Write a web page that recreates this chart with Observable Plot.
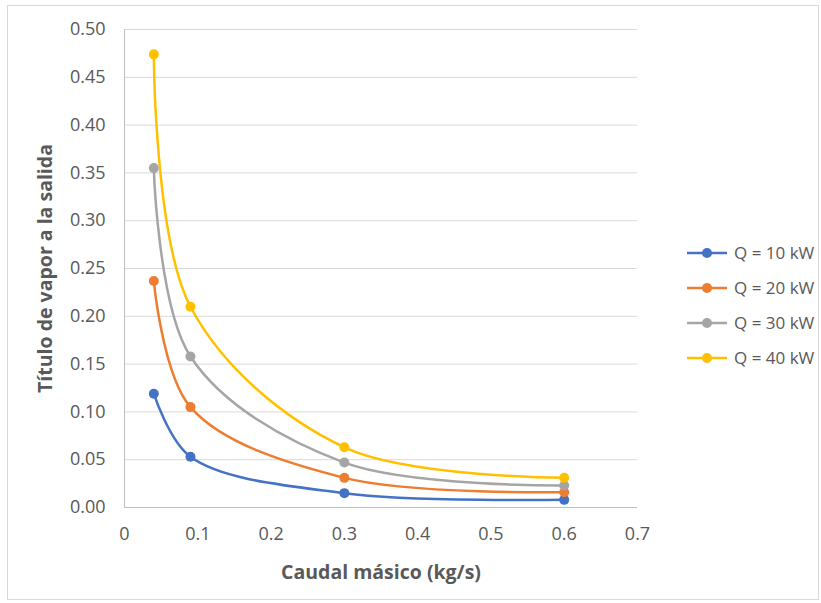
<!DOCTYPE html>
<html><head><meta charset="utf-8">
<script src="https://cdn.jsdelivr.net/npm/d3@7"></script>
<script src="https://cdn.jsdelivr.net/npm/@observablehq/plot@0.6"></script>
<style>
body{margin:0;background:#fff;font-family:"Open Sans",sans-serif;}
#wrap{position:relative;width:821px;height:603px;overflow:hidden;}
#frame{position:absolute;left:7px;top:5px;width:812px;height:595px;border:1px solid #d9d9d9;box-sizing:border-box;pointer-events:none;}
#chart{position:absolute;left:0;top:0;}
#legend{position:absolute;left:686px;top:235px;}
.item{display:flex;align-items:center;height:35px;color:#595959;font-size:17px;}
.item svg{margin-right:6px;}
</style>
</head><body>
<div id="wrap"><div id="chart"></div><div id="legend"></div><div id="frame"></div></div>
<script>
const caudal = [0.04, 0.09, 0.3, 0.6];
const series = ["Q = 10 kW", "Q = 20 kW", "Q = 30 kW", "Q = 40 kW"];
const q10 = [0.119, 0.053, 0.015, 0.008];
const q20 = [0.237, 0.105, 0.031, 0.016];
const q30 = [0.355, 0.158, 0.047, 0.023];
const q40 = [0.474, 0.210, 0.063, 0.031];
const colors = ["#4472C4", "#ED7D31", "#A5A5A5", "#FFC000"];
const xTicks = [0, 0.1, 0.2, 0.3, 0.4, 0.5, 0.6, 0.7];
const yTicks = [0, 0.05, 0.10, 0.15, 0.20, 0.25, 0.30, 0.35, 0.40, 0.45, 0.50];

const values = [q10, q20, q30, q40];
const rows = [];
series.forEach((s, i) => caudal.forEach((c, j) => rows.push({series: s, x: c, y: values[i][j]})));

const chart = Plot.plot({
  width: 821, height: 603,
  marginLeft: 124, marginRight: 184, marginTop: 29, marginBottom: 96,
  style: {fontFamily: "'Open Sans', sans-serif", color: "#595959", background: "transparent"},
  x: {domain: [0, 0.7]},
  y: {domain: [0, 0.5]},
  color: {domain: series, range: colors},
  marks: [
    Plot.gridY(yTicks, {stroke: "#d9d9d9", strokeOpacity: 1, strokeWidth: 1}),
    Plot.ruleX([0], {stroke: "#bfbfbf", strokeWidth: 1}),
    Plot.ruleY([0], {stroke: "#bfbfbf", strokeWidth: 1}),
    Plot.axisY(yTicks, {tickSize: 0, tickPadding: 19, tickFormat: d3.format(".2f"), fontSize: 18, fill: "#595959", label: null}),
    Plot.axisX(xTicks, {tickSize: 0, tickPadding: 20, tickFormat: d => d === 0 ? "0" : d.toFixed(1), fontSize: 18, fill: "#595959", label: null}),
    Plot.line(rows, {x: "x", y: "y", stroke: "series", z: "series", curve: "catmull-rom", strokeWidth: 2.5}),
    Plot.dot(rows, {x: "x", y: "y", fill: "series", r: 5, stroke: null}),
    Plot.text(["Título de vapor a la salida"], {frameAnchor: "left", textAnchor: "middle", lineAnchor: "middle", dx: -79, rotate: -90, fontWeight: "bold", fontSize: 19.5, fill: "#595959"}),
    Plot.text(["Caudal másico (kg/s)"], {frameAnchor: "bottom", textAnchor: "middle", lineAnchor: "middle", dy: 65, fontWeight: "bold", fontSize: 19.5, fill: "#595959"})
  ]
});
document.getElementById("chart").appendChild(chart);

const legend = document.getElementById("legend");
series.forEach((s, i) => {
  const div = document.createElement("div");
  div.className = "item";
  div.innerHTML = `<svg width="42" height="12"><line x1="1" y1="6" x2="41" y2="6" stroke="${colors[i]}" stroke-width="2.5"/><circle cx="21" cy="6" r="5" fill="${colors[i]}"/></svg><span>${s}</span>`;
  legend.appendChild(div);
});
</script>
</body></html>
